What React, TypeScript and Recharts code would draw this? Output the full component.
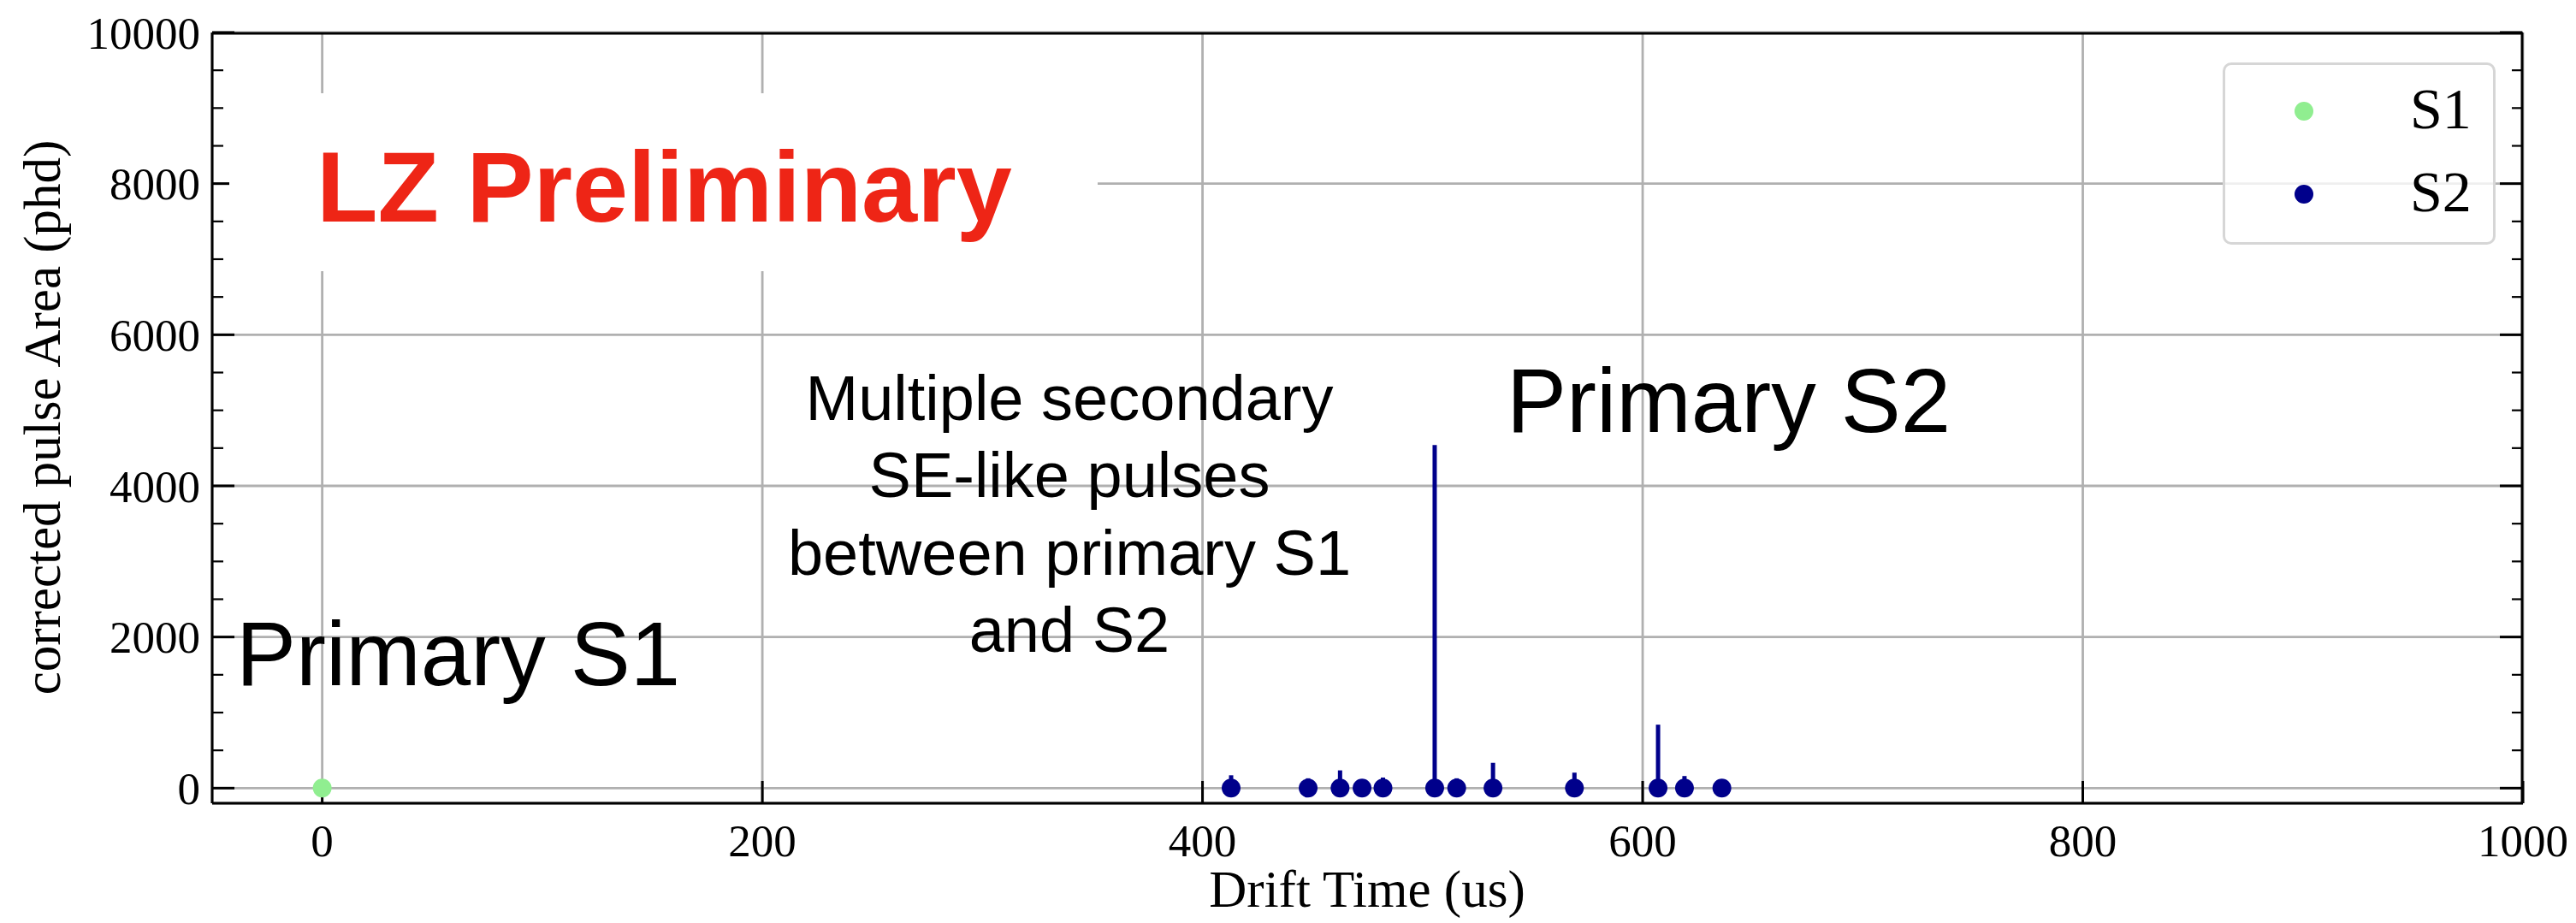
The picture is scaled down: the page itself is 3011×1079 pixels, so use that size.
import React from 'react';
import { ScatterChart, Scatter, XAxis, YAxis, CartesianGrid, ErrorBar, Legend } from 'recharts';

// Pulse drift times (us) and corrected pulse areas (phd)
const s1Times = [0];
const s1Areas = [40];
const s2Times = [413, 448, 462.5, 472.5, 482, 505.5, 515.5, 532, 569, 607, 619, 636];
const s2Areas = [170, 130, 235, 80, 140, 4540, 130, 335, 205, 840, 160, 60];

const xMajorTicks = [0, 200, 400, 600, 800, 1000];
const xMinorTicks = [50, 100, 150, 250, 300, 350, 450, 500, 550, 650, 700, 750, 850, 900, 950];
const yMajorTicks = [0, 2000, 4000, 6000, 8000, 10000];
const yMinorTicks = [500, 1000, 1500, 2500, 3000, 3500, 4500, 5000, 5500, 6500, 7000, 7500, 8500, 9000, 9500];

const xDomain: [number, number] = [-50, 1000];
const yDomain: [number, number] = [-200, 10000];

const S1_COLOR = '#90EE90';
const S2_COLOR = '#00008B';

const W = 3011;
const H = 1079;

// Each pulse sits on the zero line; the stem rises to its area.
const s1Data = s1Times.map((t, i) => ({ t, base: 0, stem: [0, s1Areas[i]] }));
const s2Data = s2Times.map((t, i) => ({ t, base: 0, stem: [0, s2Areas[i]] }));

const serif = '"Liberation Serif", "Times New Roman", serif';
const sans = '"Liberation Sans", Arial, Helvetica, sans-serif';

const frame = { stroke: '#000', strokeWidth: 3 };
const majorLine = { stroke: '#000', strokeWidth: 3 };
const minorLine = { stroke: '#000', strokeWidth: 2.2 };
const tickText = { fill: '#000', fontSize: 53, fontFamily: serif };

// tick marks only, no label
const noLabel = () => <g />;

const dot = (color: string) => (p: any) => <circle cx={p.cx} cy={p.cy} r={11} fill={color} />;

const LegendBox = (props: any) => {
  const items = props.payload || [];
  return (
    <div
      style={{
        boxSizing: 'border-box',
        width: 319,
        height: 213,
        border: '3px solid #d6d6d6',
        borderRadius: 10,
        background: 'rgba(255,255,255,0.8)',
        position: 'relative',
      }}
    >
      <svg width={319} height={213} style={{ position: 'absolute', left: -3, top: -3 }}>
        {items.map((it: any, i: number) => (
          <g key={it.value}>
            <circle cx={95} cy={57 + i * 97} r={11} fill={it.color} />
            <text x={219} y={77 + i * 97} fontFamily={serif} fontSize={68} fill="#000">
              {it.value}
            </text>
          </g>
        ))}
      </svg>
    </div>
  );
};

export default function App() {
  return (
    <div style={{ position: 'absolute', left: 0, top: 0, width: W, height: H, background: '#fff' }}>
      <ScatterChart width={W} height={H} margin={{ top: 38, right: 62, bottom: 0, left: 0 }}>
        <CartesianGrid xAxisId="x" yAxisId="y" stroke="#b0b0b0" strokeWidth={2.8} />

        {/* bottom axis: labelled major ticks pointing inward */}
        <XAxis
          xAxisId="x"
          dataKey="t"
          type="number"
          domain={xDomain}
          allowDataOverflow
          ticks={xMajorTicks}
          interval={0}
          height={140}
          tickSize={-26}
          tickMargin={50}
          axisLine={frame}
          tickLine={majorLine}
          tick={tickText}
        />
        <XAxis
          xAxisId="xMinorBottom"
          type="number"
          orientation="bottom"
          mirror
          domain={xDomain}
          allowDataOverflow
          ticks={xMinorTicks}
          interval={0}
          height={1}
          tickSize={13}
          axisLine={false}
          tickLine={minorLine}
          tick={noLabel}
        />
        {/* top frame with inward ticks */}
        <XAxis
          xAxisId="xTop"
          type="number"
          orientation="top"
          mirror
          domain={xDomain}
          allowDataOverflow
          ticks={xMajorTicks}
          interval={0}
          height={1}
          tickSize={26}
          axisLine={frame}
          tickLine={majorLine}
          tick={noLabel}
        />
        <XAxis
          xAxisId="xMinorTop"
          type="number"
          orientation="top"
          mirror
          domain={xDomain}
          allowDataOverflow
          ticks={xMinorTicks}
          interval={0}
          height={1}
          tickSize={13}
          axisLine={false}
          tickLine={minorLine}
          tick={noLabel}
        />

        {/* left axis: labelled major ticks pointing inward */}
        <YAxis
          yAxisId="y"
          type="number"
          domain={yDomain}
          allowDataOverflow
          ticks={yMajorTicks}
          interval={0}
          width={248}
          tickSize={-26}
          tickMargin={40}
          axisLine={frame}
          tickLine={majorLine}
          tick={tickText}
        />
        <YAxis
          yAxisId="yMinorLeft"
          type="number"
          orientation="left"
          mirror
          domain={yDomain}
          allowDataOverflow
          ticks={yMinorTicks}
          interval={0}
          width={1}
          tickSize={13}
          axisLine={false}
          tickLine={minorLine}
          tick={noLabel}
        />
        {/* right frame with inward ticks */}
        <YAxis
          yAxisId="yRight"
          type="number"
          orientation="right"
          mirror
          domain={yDomain}
          allowDataOverflow
          ticks={yMajorTicks}
          interval={0}
          width={1}
          tickSize={26}
          axisLine={frame}
          tickLine={majorLine}
          tick={noLabel}
        />
        <YAxis
          yAxisId="yMinorRight"
          type="number"
          orientation="right"
          mirror
          domain={yDomain}
          allowDataOverflow
          ticks={yMinorTicks}
          interval={0}
          width={1}
          tickSize={13}
          axisLine={false}
          tickLine={minorLine}
          tick={noLabel}
        />

        <Scatter
          name="S1"
          data={s1Data}
          dataKey="base"
          xAxisId="x"
          yAxisId="y"
          fill={S1_COLOR}
          shape={dot(S1_COLOR)}
          isAnimationActive={false}
        >
          <ErrorBar dataKey="stem" direction="y" width={0} stroke={S1_COLOR} strokeWidth={5} />
        </Scatter>
        <Scatter
          name="S2"
          data={s2Data}
          dataKey="base"
          xAxisId="x"
          yAxisId="y"
          fill={S2_COLOR}
          shape={dot(S2_COLOR)}
          isAnimationActive={false}
        >
          <ErrorBar dataKey="stem" direction="y" width={0} stroke={S2_COLOR} strokeWidth={5} />
        </Scatter>

        <Legend
          layout="vertical"
          align="center"
          verticalAlign="middle"
          content={<LegendBox />}
          wrapperStyle={{ left: 2598, top: 73, width: 319, height: 213 }}
        />
      </ScatterChart>

      {/* titles and annotations */}
      <svg
        width={W}
        height={H}
        style={{ position: 'absolute', left: 0, top: 0, pointerEvents: 'none' }}
      >
        <text
          x={1598}
          y={1060}
          textAnchor="middle"
          fontFamily={serif}
          fontSize={61}
          fill="#000"
        >
          Drift Time (us)
        </text>
        <text
          x={70}
          y={488}
          transform="rotate(-90, 70, 488)"
          textAnchor="middle"
          fontFamily={serif}
          fontSize={61}
          fill="#000"
        >
          corrected pulse Area (phd)
        </text>

        <rect x={268} y={109} width={1015} height={208} fill="#fff" />
        <text x={370} y={259} fontFamily={sans} fontWeight="bold" fontSize={117} fill="#EE2516">
          LZ Preliminary
        </text>

        <text x={276} y={801} fontFamily={sans} fontSize={105} fill="#000">
          Primary S1
        </text>
        <text x={1761} y={505} fontFamily={sans} fontSize={105} fill="#000">
          Primary S2
        </text>
        <text textAnchor="middle" fontFamily={sans} fontSize={74} fill="#000">
          <tspan x={1250} y={491}>Multiple secondary</tspan>
          <tspan x={1250} y={581}>SE-like pulses</tspan>
          <tspan x={1250} y={672}>between primary S1</tspan>
          <tspan x={1250} y={762}>and S2</tspan>
        </text>
      </svg>
    </div>
  );
}
